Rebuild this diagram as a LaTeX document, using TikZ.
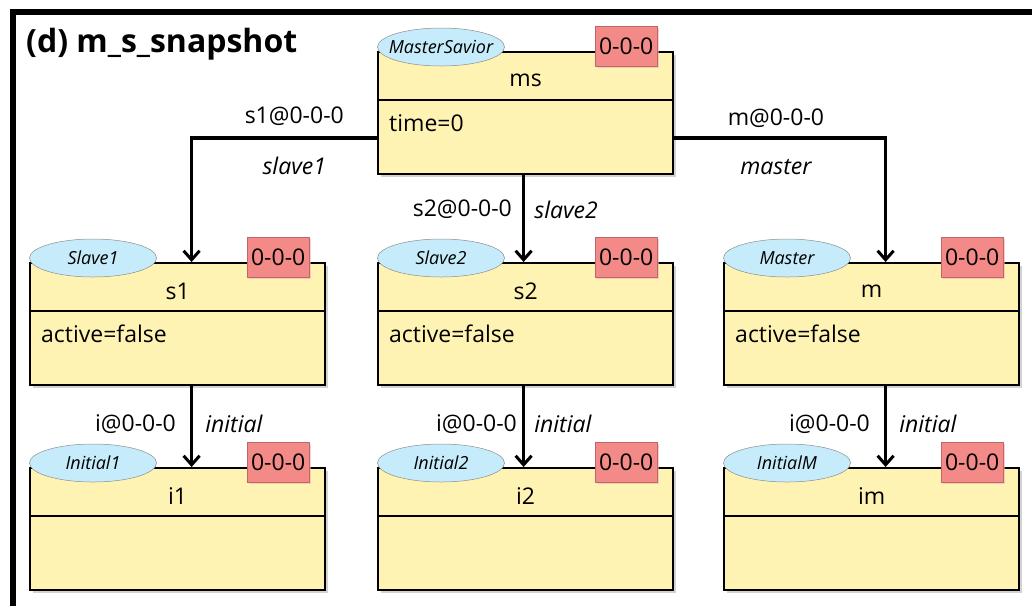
\documentclass[tikz,border=0pt]{standalone}
\usepackage{fontspec}
\setmainfont{Open Sans}
\setsansfont{Open Sans}
\usetikzlibrary{arrows.meta,shadows,calc,shapes.geometric}
\definecolor{boxyellow}{HTML}{FFF3B3}
\definecolor{stereoblue}{HTML}{C6ECFB}
\definecolor{tagred}{HTML}{F38A88}
\definecolor{tagedge}{HTML}{B86A6A}
\tikzset{
  cbox/.style={draw=black, line width=2.2pt, fill=boxyellow, rectangle, inner sep=0pt,
    minimum width=295pt, minimum height=122pt, anchor=north west,
    drop shadow={shadow xshift=3pt, shadow yshift=-3pt, fill=black!25, opacity=.7}},
  divline/.style={line width=1.8pt, draw=black},
  stereo/.style={ellipse, draw=black!45, line width=0.5pt, fill=stereoblue, minimum width=127pt,
    minimum height=38pt, inner sep=0pt},
  sttext/.style={inner sep=0pt, font=\fontsize{18}{21}\selectfont\itshape},
  tagbox/.style={rectangle, draw=tagedge, line width=0.6pt, fill=tagred, minimum width=62pt, minimum height=40pt,
    inner sep=0pt, font=\fontsize{23}{26}\selectfont,
    drop shadow={shadow xshift=2pt, shadow yshift=-2pt, fill=tagred!70, opacity=.6}},
  ctext/.style={font=\fontsize{23}{26}\selectfont, inner sep=0pt},
  conn/.style={line width=3.5pt, draw=black, -{Straight Barb[length=9pt,width=16pt,line width=3pt]}},
  lbl/.style={font=\fontsize{23}{26}\selectfont, inner sep=0pt},
  ilbl/.style={font=\fontsize{23}{26}\selectfont\itshape, inner sep=0pt},
}
\newcommand\classbox[6]{%
  \node[cbox] (#1) at (#2,#3) {};
  \draw[divline] ([yshift=-49pt]#1.north west) -- ([yshift=-49pt]#1.north east);
  \node[ctext] (#1name) at ([yshift=-29pt]#1.north) {#4};
  \node[ctext, anchor=west] (#1attr) at ([xshift=12pt,yshift=-72pt]#1.north west) {#5};
  \node[stereo] (#1st) at ([xshift=64pt,yshift=4pt]#1.north west) {};
  \node[sttext] (#1sttext) at (#1st) {#6};
  \node[tagbox] (#1tag) at ([xshift=-48pt,yshift=5pt]#1.north east) {0-0-0};
}
\begin{document}
\begin{tikzpicture}[x=1pt,y=-1pt]
\useasboundingbox (0,0) rectangle (1032,606);
% frame
\draw[line width=6pt] (1032,12) -- (13,12) -- (13,606);
\node[anchor=base west, inner sep=0pt, font=\fontsize{32}{36}\selectfont\bfseries] (title) at (26,52) {(d) m\_s\_snapshot};

\classbox{ms}{377}{51}{ms}{time=0}{MasterSavior}
\classbox{s1}{29}{262}{s1}{active=false}{Slave1}
\classbox{s2}{377}{262}{s2}{active=false}{Slave2}
\classbox{m}{723}{262}{m}{active=false}{Master}
\classbox{i1}{29}{467}{i1}{}{Initial1}
\classbox{i2}{377}{467}{i2}{}{Initial2}
\classbox{im}{723}{467}{im}{}{InitialM}

% connectors
\draw[conn] ([yshift=-25pt]ms.west) -| ([xshift=14pt]s1.north)
  node[lbl, pos=0.25, yshift=22pt, xshift=10pt] {s1@0-0-0}
  node[ilbl, pos=0.25, yshift=-28pt, xshift=10pt] {slave1};
\draw[conn] ([yshift=-25pt]ms.east) -| ([xshift=14pt]m.north)
  node[lbl, pos=0.25, yshift=20pt, xshift=-4pt] {m@0-0-0}
  node[ilbl, pos=0.25, yshift=-29pt, xshift=-4pt] {master};
\draw[conn] ([xshift=-2pt]ms.south) -- ([xshift=-2pt]s2.north)
  node[lbl, midway, anchor=east, xshift=-10pt, yshift=9pt] {s2@0-0-0}
  node[ilbl, midway, anchor=west, xshift=9pt, yshift=9pt] {slave2};
\draw[conn] ([xshift=14pt]s1.south) -- ([xshift=14pt]i1.north)
  node[lbl, midway, anchor=east, xshift=-14pt, yshift=3pt] {i@0-0-0}
  node[ilbl, midway, anchor=west, xshift=12pt, yshift=3pt] {initial};
\draw[conn] ([xshift=-2pt]s2.south) -- ([xshift=-2pt]i2.north)
  node[lbl, midway, anchor=east, xshift=-5pt, yshift=3pt] {i@0-0-0}
  node[ilbl, midway, anchor=west, xshift=9pt, yshift=3pt] {initial};
\draw[conn] ([xshift=14pt]m.south) -- ([xshift=14pt]im.north)
  node[lbl, midway, anchor=east, xshift=-14pt, yshift=3pt] {i@0-0-0}
  node[ilbl, midway, anchor=west, xshift=12pt, yshift=3pt] {initial};
\end{tikzpicture}
\end{document}
